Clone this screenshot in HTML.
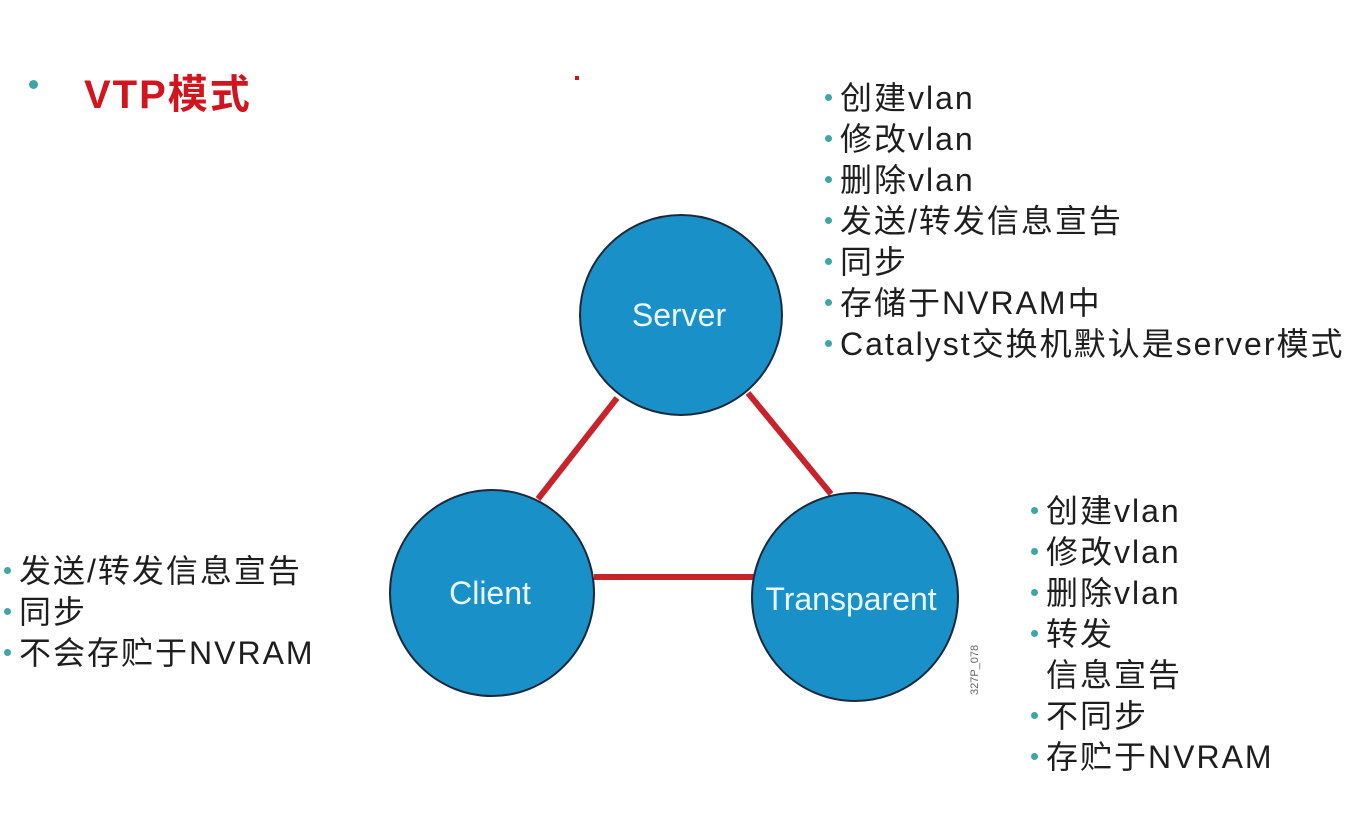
<!DOCTYPE html>
<html><head><meta charset="utf-8"><style>
body{margin:0;width:1355px;height:818px;background:#fff;position:relative;overflow:hidden;font-family:"Liberation Sans","Noto Sans CJK SC",sans-serif;}
.l{position:absolute;font-size:32px;letter-spacing:2px;color:#1e1e1e;white-space:nowrap;line-height:41px;}
.l div{position:relative;height:41px;}
.d{display:inline-block;width:7px;height:7px;border-radius:50%;background:#3ea6a6;vertical-align:middle;margin-right:8px;position:relative;top:-3px;}
.n{display:inline-block;width:15px;}
</style></head><body>
<div style="position:absolute;left:29px;top:80px;width:9px;height:9px;border-radius:50%;background:#3ea6a6"></div>
<div style="position:absolute;left:84px;top:62px;font-size:40px;letter-spacing:2px;font-weight:bold;color:#d0151e;">VTP模式</div>
<div style="position:absolute;left:575px;top:76px;width:4px;height:4px;background:#d0151e"></div>
<svg width="1355" height="818" style="position:absolute;left:0;top:0">
<g stroke="#c8232b" stroke-width="6">
<line x1="617" y1="398" x2="538" y2="499"/>
<line x1="748" y1="393" x2="831" y2="494"/>
<line x1="594" y1="577" x2="756" y2="577"/>
</g>
<g fill="#1a90c9" stroke="#1b2a3a" stroke-width="2">
<ellipse cx="681" cy="315" rx="101" ry="100"/>
<ellipse cx="492" cy="593" rx="102" ry="103"/>
<ellipse cx="855" cy="597" rx="103" ry="104"/>
</g>
<g fill="#eaf8ff" font-family="Liberation Sans,sans-serif" font-size="32" text-anchor="middle">
<text x="679" y="326">Server</text>
<text x="490" y="604">Client</text>
<text x="851" y="610">Transparent</text>
</g>
<text x="0" y="0" transform="translate(978,695) rotate(-90)" font-size="11" fill="#666" font-family="Liberation Sans,sans-serif">327P_078</text>
</svg>
<div class="l" style="left:825px;top:78px">
<div><span class="d"></span>创建vlan</div>
<div><span class="d"></span>修改vlan</div>
<div><span class="d"></span>删除vlan</div>
<div><span class="d"></span>发送/转发信息宣告</div>
<div><span class="d"></span>同步</div>
<div><span class="d"></span>存储于NVRAM中</div>
<div><span class="d"></span>Catalyst交换机默认是server模式</div>
</div>
<div class="l" style="left:1031px;top:491px">
<div><span class="d"></span>创建vlan</div>
<div><span class="d"></span>修改vlan</div>
<div><span class="d"></span>删除vlan</div>
<div><span class="d"></span>转发</div>
<div><span class="n"></span>信息宣告</div>
<div><span class="d"></span>不同步</div>
<div><span class="d"></span>存贮于NVRAM</div>
</div>
<div class="l" style="left:4px;top:551px">
<div><span class="d"></span>发送/转发信息宣告</div>
<div><span class="d"></span>同步</div>
<div><span class="d"></span>不会存贮于NVRAM</div>
</div>
</body></html>
